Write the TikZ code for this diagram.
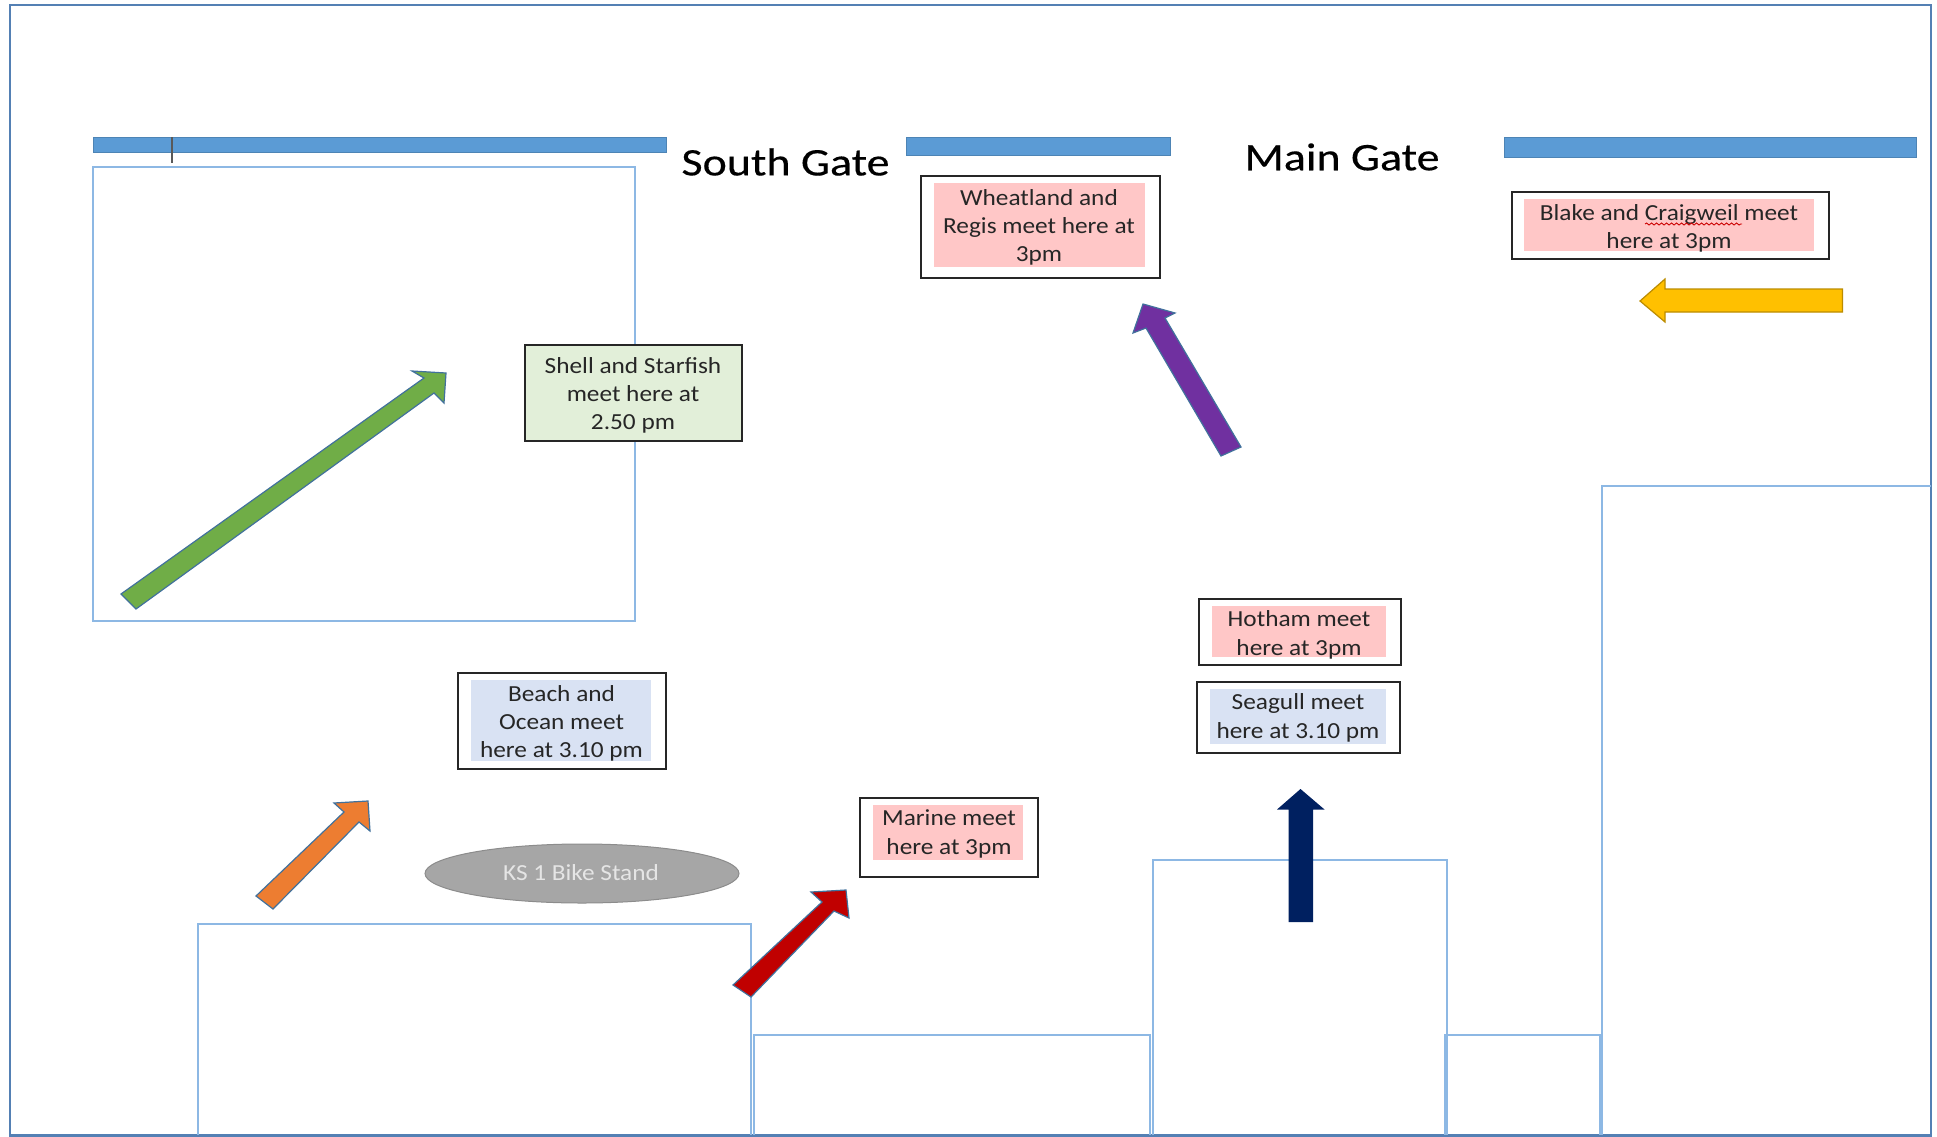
\documentclass[tikz,border=0pt]{standalone}
\usepackage{fontspec}
\setmainfont{Carlito}
\newfontfamily\msgfont[FakeStretch=1.1]{Carlito}
\newfontfamily\gatefont[FakeStretch=1.18,FakeBold=0.4]{Carlito}
\usetikzlibrary{decorations.pathmorphing,shapes.geometric}
\definecolor{barblue}{HTML}{5B9BD5}
\definecolor{roomline}{HTML}{8DB8E4}
\definecolor{frameline}{HTML}{5480B4}
\definecolor{arrowedge}{HTML}{41719C}
\definecolor{pinkfill}{HTML}{FFC7C7}
\definecolor{bluefill}{HTML}{D9E2F3}
\definecolor{greenfill}{HTML}{E2EFD9}
\definecolor{agreen}{HTML}{70AD47}
\definecolor{aorange}{HTML}{ED7D31}
\definecolor{ared}{HTML}{C00000}
\definecolor{apurple}{HTML}{7030A0}
\definecolor{ayellow}{HTML}{FFC000}
\definecolor{ayedge}{HTML}{BC8C00}
\definecolor{anavy}{HTML}{002060}
\tikzset{
  x=1pt,y=-1pt,
  outerframe/.style={draw=frameline,line width=2.2pt},
  room/.style={draw=roomline,line width=2pt},
  gatebar/.style={fill=barblue,draw=barblue!85!black,line width=0.8pt},
  msgbox/.style={draw=black!85,line width=2pt,fill=white},
  msgtext/.style={align=center,inner sep=0pt,text=black!85,font=\msgfont\fontsize{23}{28.3}\selectfont},
  gatetext/.style={inner sep=0pt,text=black,font=\gatefont\fontsize{39}{44}\selectfont},
  blockarrow/.style={line width=1.2pt,line join=miter}
}
\begin{document}
\begin{tikzpicture}
\useasboundingbox (0,0) rectangle (1937,1137);
\fill[white] (0,0) rectangle (1937,1137);
\draw[outerframe] (10,5) rectangle (1931,1135.5);
% rooms
\draw[room] (93,166.5) rectangle (635,621);
\draw[room] (198,1135) |- (751,924) -- (751,1135);
\draw[room] (754,1135) |- (1150,1035) -- (1150,1135);
\draw[room] (1152.5,1135) |- (1446.5,860) -- (1446.5,1135);
\draw[room] (1445,1135) |- (1600,1035) -- (1600,1135);
\draw[room] (1601.5,1135) |- (1931,486);
% gates
\draw[gatebar] (93,137) rectangle (666,152);
\draw[black!65,line width=1.4pt] (172,137) -- (172,163);
\draw[gatebar] (906,137) rectangle (1170,155);
\draw[gatebar] (1504.6,137) rectangle (1916,157);
\node[gatetext] (southgate) at (785.5,162) {South Gate};
\node[gatetext] (maingate) at (1342,157) {Main Gate};
% arrows
\draw[blockarrow,fill=agreen,draw=arrowedge]
  (121,594) -- (424,378) -- (412,371) -- (446,373) -- (444,403) -- (434,393) -- (136,609) -- cycle;
\draw[blockarrow,fill=aorange,draw=arrowedge]
  (256,896) -- (344,812) -- (334,803) -- (368,801) -- (370,831) -- (359,822) -- (273,909) -- cycle;
\draw[blockarrow,fill=ared,draw=arrowedge]
  (733,985) -- (822,902) -- (811,892) -- (846,890) -- (849,918) -- (834,911) -- (751,997) -- cycle;
\draw[blockarrow,fill=apurple,draw=arrowedge]
  (1221,456) -- (1146,328) -- (1133,333) -- (1143,304) -- (1175,313) -- (1165,318) -- (1241,447) -- cycle;
\draw[blockarrow,fill=ayellow,draw=ayedge]
  (1842.5,289) -- (1665,289) -- (1665,279) -- (1640,301) -- (1665,322) -- (1665,312) -- (1842.5,312) -- cycle;
\fill[anavy]
  (1288.5,922) -- (1288.5,809.5) -- (1277,809.5) -- (1300.5,789) -- (1324.5,809.5) -- (1313,809.5) -- (1313,922) -- cycle;
% bike stand
\node[ellipse,draw=black!45,fill=black!35,line width=1pt,minimum width=314pt,minimum height=59pt,inner sep=0pt] (bike) at (582,873.5) {};
\node[msgtext,text=white!90!black] (biketext) at (581,873) {KS 1 Bike Stand};
% message boxes
\draw[msgbox,fill=greenfill] (525,345) rectangle (742,441);
\node[msgtext] (shell) at (633,395.5) {Shell and Starfish\\meet here at\\2.50 pm};

\draw[msgbox] (458,673) rectangle (666,769);
\fill[bluefill] (471,680) rectangle (651,761);
\node[msgtext] (beach) at (561.5,723.5) {Beach and\\Ocean meet\\here at 3.10 pm};

\draw[msgbox] (860,798) rectangle (1038,877);
\fill[pinkfill] (873,805) rectangle (1023,860);
\node[msgtext] (marine) at (949,834) {Marine meet\\here at 3pm};

\draw[msgbox] (1199,599) rectangle (1401,665);
\fill[pinkfill] (1212,606) rectangle (1386,656.5);
\node[msgtext] (hotham) at (1299,635) {Hotham meet\\here at 3pm};

\draw[msgbox] (1197,682) rectangle (1400,753);
\fill[bluefill] (1210,689) rectangle (1386,744);
\node[msgtext] (seagull) at (1298,718) {Seagull meet\\here at 3.10 pm};

\draw[msgbox] (921,176) rectangle (1160,278);
\fill[pinkfill] (934,183) rectangle (1145,267);
\node[msgtext] (wheat) at (1039,227.5) {Wheatland and\\Regis meet here at\\3pm};

\draw[msgbox] (1512,192) rectangle (1829,259);
\fill[pinkfill] (1524,199) rectangle (1814,251);
\node[msgtext] (blake) at (1669,228.5) {Blake and Craigweil meet\\here at 3pm};
\draw[red!80!black,line width=0.9pt,decorate,decoration={snake,amplitude=1pt,segment length=5pt}] (1645,224) -- (1742,224);
\end{tikzpicture}
\end{document}
